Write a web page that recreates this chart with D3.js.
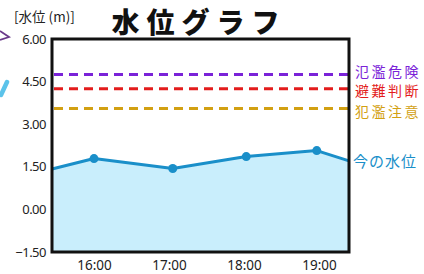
<!DOCTYPE html>
<html><head><meta charset="utf-8">
<script src="https://cdn.jsdelivr.net/npm/d3@7"></script>
<style>
html,body{margin:0;padding:0;background:#fff;}
svg{display:block;}
text{font-family:"Noto Sans CJK JP","Noto Sans",sans-serif;}
</style></head>
<body>
<svg id="c" width="424" height="274"></svg>
<script>
// data
const hours = [15.44, 16, 17.05, 18.03, 18.97, 19.4];
const levels = [1.42, 1.79, 1.44, 1.86, 2.07, 1.71];
const markerIdx = [1, 2, 3, 4];
const yTicks = [6, 4.5, 3, 1.5, 0, -1.5];
const xTicks = [16, 17, 18, 19];
const xTickLabels = ["16:00", "17:00", "18:00", "19:00"];
const thresholdNames = ["氾濫危険", "避難判断", "犯濫注意"];
const thresholdValues = [4.75, 4.25, 3.55];
const thresholdColors = ["#7a22d8", "#e31c1c", "#d2a012"];
const title = "水位グラフ";
const yLabel = "[水位 (m)]";
const currentLabel = "今の水位";

const labelOffsets = [2.5, 7.5, 8]; // style: vertical nudge of threshold labels

const svg = d3.select("#c");
const L = 52, R = 349, T = 39, B = 252;
const x = d3.scaleLinear().domain([15.44, 19.4]).range([L, R]);
const y = d3.scaleLinear().domain([-1.5, 6]).range([B, T]);

// decorations at left edge
svg.append("path").attr("d", "M0,31 L9,37 L0,40").attr("fill", "none")
  .attr("stroke", "#6a3a8a").attr("stroke-width", 1.8);
svg.append("path").attr("d", "M7,82 L1,95").attr("fill", "none")
  .attr("stroke", "#5cc3ea").attr("stroke-width", 4.5).attr("stroke-linecap", "round");

// title
svg.append("text").attr("x", 199).attr("y", 33).attr("text-anchor", "middle")
  .attr("font-size", 28).attr("font-weight", 900).attr("letter-spacing", 7)
  .attr("fill", "#111").text(title);
svg.append("text").attr("x", 14).attr("y", 22).attr("font-size", 13.5)
  .attr("fill", "#222").text(yLabel);

// area & line
const area = d3.area().x((d, i) => x(hours[i])).y0(B).y1(d => y(d));
svg.append("path").datum(levels).attr("d", area).attr("fill", "#c9eefc");
const line = d3.line().x((d, i) => x(hours[i])).y(d => y(d));
svg.append("path").datum(levels).attr("d", line).attr("fill", "none")
  .attr("stroke", "#1a8fc9").attr("stroke-width", 3).attr("stroke-linejoin", "round");
svg.selectAll("circle.m").data(markerIdx).enter().append("circle")
  .attr("cx", i => x(hours[i])).attr("cy", i => y(levels[i])).attr("r", 4.5)
  .attr("fill", "#1a8fc9");

// thresholds
thresholdValues.forEach((v, i) => {
  svg.append("line").attr("x1", L + 2).attr("x2", R).attr("y1", y(v)).attr("y2", y(v))
    .attr("stroke", thresholdColors[i]).attr("stroke-width", 3).attr("stroke-dasharray", "9,6");
  svg.append("text").attr("x", 355).attr("y", y(v) + labelOffsets[i]).attr("font-size", 14)
    .attr("letter-spacing", 2.5).attr("fill", thresholdColors[i]).text(thresholdNames[i]);
});
svg.append("text").attr("x", 353).attr("y", y(levels[levels.length - 1]) + 6).attr("font-size", 15)
  .attr("letter-spacing", 1).attr("fill", "#1a8fc9").text(currentLabel);

// frame
svg.append("rect").attr("x", L).attr("y", T).attr("width", R - L).attr("height", B - T)
  .attr("fill", "none").attr("stroke", "#111").attr("stroke-width", 3);

// axes labels
const yAxis = d3.axisLeft(y).tickValues(yTicks).tickFormat(d3.format(".2f")).tickSize(0).tickPadding(6);
const gy = svg.append("g").attr("transform", `translate(${L},0)`).call(yAxis);
gy.select(".domain").remove();
gy.selectAll("text").attr("font-size", 13).attr("fill", "#222")
  .style("font-family", "'Noto Sans',sans-serif").attr("letter-spacing", -0.5);

const xAxis = d3.axisBottom(x).tickValues(xTicks).tickFormat((d, i) => xTickLabels[i]).tickSize(0).tickPadding(8);
const gx = svg.append("g").attr("transform", `translate(0,${B})`).call(xAxis);
gx.select(".domain").remove();
gx.selectAll("text").attr("font-size", 13.5).attr("fill", "#222")
  .style("font-family", "'Noto Sans',sans-serif");
</script>
</body></html>
